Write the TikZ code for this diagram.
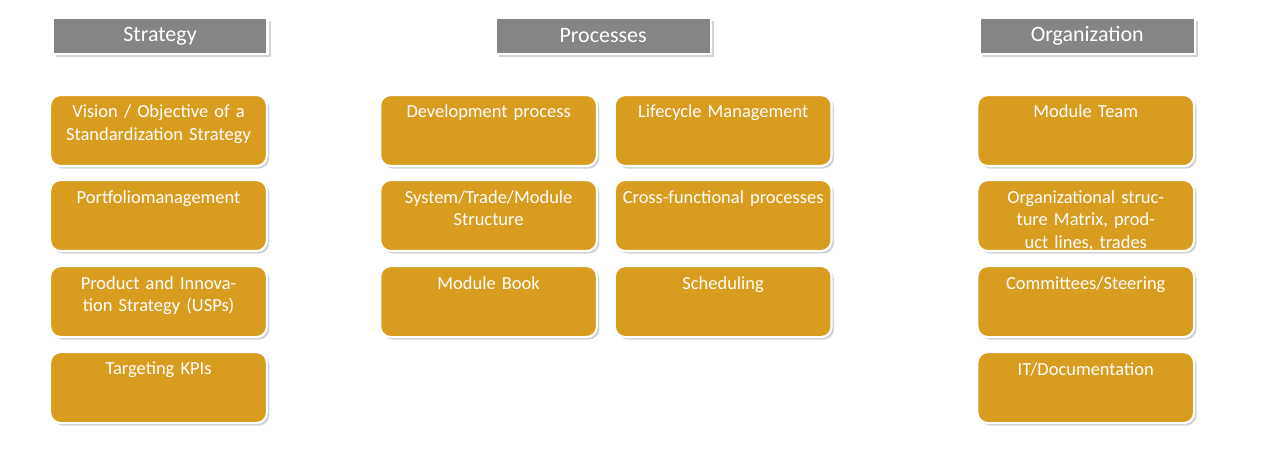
\documentclass[tikz,border=0pt]{standalone}
\usepackage{fontspec}
\setmainfont{Carlito}
\usetikzlibrary{positioning,shadows}
\definecolor{boxgold}{HTML}{D89C1E}
\definecolor{headgray}{HTML}{858585}
\tikzset{
  head/.style={draw=white, line width=1.2pt, fill=headgray, text=white,
    minimum width=4.3cm, minimum height=0.72cm, font=\fontsize{12.5}{14}\selectfont,
    drop shadow={shadow xshift=0.06cm, shadow yshift=-0.06cm, opacity=0.35}},
  item/.style={draw=white, line width=1.2pt, fill=boxgold, text=white, rounded corners=6pt,
    minimum width=4.26cm, minimum height=1.42cm, text width=4.1cm, align=center,
    font=\fontsize{10.5}{13}\selectfont,
    drop shadow={shadow xshift=0.05cm, shadow yshift=-0.05cm, opacity=0.35}},
}
\newcommand{\itembox}[4]{% name, x, y (top, px), text
  \node[item] (#1) at (#2*0.02, -#3*0.02-0.71) {};
  \node[anchor=north, text=white, text width=4.1cm, align=center,
    font=\fontsize{10.5}{13}\selectfont] (#1-t) at ([yshift=-0.1cm]#1.north) {#4};}
\begin{document}
\begin{tikzpicture}
\useasboundingbox (0,0) rectangle (25.6,-9);
% headers
\node[head] (strategy) at (160*0.02, -36*0.02) {Strategy};
\node[head] (processes) at (603*0.02, -36*0.02) {Processes};
\node[head] (organization) at (1087*0.02, -36*0.02) {Organization};
% strategy column
\itembox{s1}{158.5}{95}{Vision / Objective of a Standardization Strategy}
\itembox{s2}{158.5}{180}{Portfoliomanagement}
\itembox{s3}{158.5}{266}{Product and Innovation Strategy (USPs)}
\itembox{s4}{158.5}{352}{Targeting KPIs}
% processes columns
\itembox{p1}{488.5}{95}{Development process}
\itembox{p2}{488.5}{180}{System/Trade/Module Structure}
\itembox{p3}{488.5}{266}{Module Book}
\itembox{q1}{723}{95}{Lifecycle Management}
\itembox{q2}{723}{180}{Cross-functional processes}
\itembox{q3}{723}{266}{Scheduling}
% organization column
\itembox{o1}{1085.5}{95}{Module Team}
\itembox{o2}{1085.5}{180}{Organizational structure Matrix, product lines, trades}
\itembox{o3}{1085.5}{266}{Committees/Steering}
\itembox{o4}{1085.5}{352}{IT/Documentation}
\end{tikzpicture}
\end{document}
